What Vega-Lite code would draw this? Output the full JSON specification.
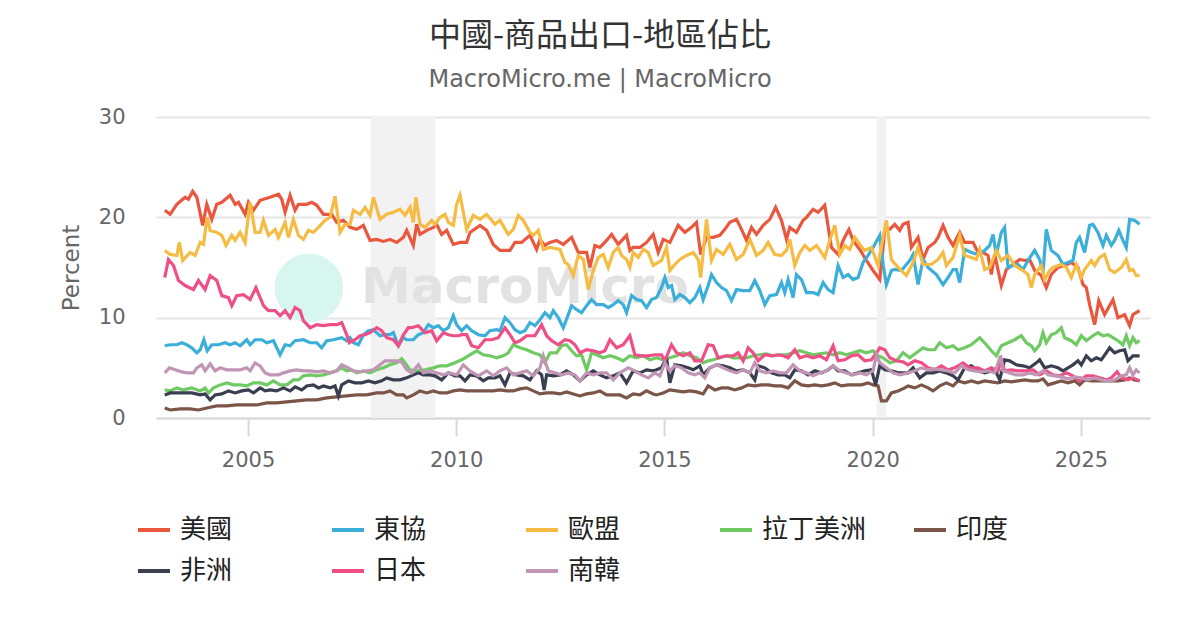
{
  "$schema": "https://vega.github.io/schema/vega-lite/v6.json",
  "width": 994,
  "height": 301,
  "autosize": "none",
  "padding": {"left": 156, "top": 117, "right": 50, "bottom": 212},
  "background": "white",
  "title": {
    "text": "中國-商品出口-地區佔比",
    "subtitle": "MacroMicro.me | MacroMicro",
    "anchor": "middle",
    "frame": "group",
    "dx": -53,
    "offset": 13,
    "font": "Noto Sans CJK TC",
    "fontSize": 32,
    "fontWeight": "normal",
    "color": "#333333",
    "subtitleFont": "DejaVu Sans",
    "subtitleFontSize": 24,
    "subtitleColor": "#666666",
    "subtitlePadding": 15
  },
  "config": {"view": {"stroke": null}},
  "datasets": {
    "us": [
      {"t":2003.00,"v":20.7},{"t":2003.13,"v":20.3},{"t":2003.29,"v":21.3},{"t":2003.49,"v":22.0},{"t":2003.57,"v":21.8},{"t":2003.67,"v":22.6},{"t":2003.77,"v":22.0},{"t":2003.91,"v":19.2},{"t":2004.01,"v":21.3},{"t":2004.13,"v":19.8},{"t":2004.25,"v":21.3},{"t":2004.37,"v":21.5},{"t":2004.57,"v":22.2},{"t":2004.69,"v":21.3},{"t":2004.77,"v":21.5},{"t":2004.93,"v":20.3},{"t":2005.01,"v":21.5},{"t":2005.13,"v":20.7},{"t":2005.29,"v":21.7},{"t":2005.53,"v":22.0},{"t":2005.73,"v":22.3},{"t":2005.81,"v":21.8},{"t":2005.89,"v":20.5},{"t":2006.01,"v":22.2},{"t":2006.13,"v":20.7},{"t":2006.21,"v":21.3},{"t":2006.41,"v":21.3},{"t":2006.53,"v":21.5},{"t":2006.65,"v":21.2},{"t":2006.81,"v":20.3},{"t":2007.01,"v":20.3},{"t":2007.13,"v":19.5},{"t":2007.29,"v":19.7},{"t":2007.45,"v":19.0},{"t":2007.61,"v":18.8},{"t":2007.77,"v":19.2},{"t":2007.93,"v":17.7},{"t":2008.09,"v":17.8},{"t":2008.25,"v":17.6},{"t":2008.41,"v":17.8},{"t":2008.57,"v":17.5},{"t":2008.73,"v":18.0},{"t":2008.81,"v":18.7},{"t":2008.97,"v":17.2},{"t":2009.05,"v":19.3},{"t":2009.13,"v":18.3},{"t":2009.29,"v":18.7},{"t":2009.45,"v":19.0},{"t":2009.53,"v":19.3},{"t":2009.65,"v":18.3},{"t":2009.77,"v":18.7},{"t":2009.93,"v":17.3},{"t":2010.09,"v":17.5},{"t":2010.25,"v":17.5},{"t":2010.33,"v":18.5},{"t":2010.57,"v":19.2},{"t":2010.73,"v":18.7},{"t":2010.89,"v":17.3},{"t":2011.05,"v":16.7},{"t":2011.29,"v":16.7},{"t":2011.41,"v":17.5},{"t":2011.57,"v":17.5},{"t":2011.77,"v":18.2},{"t":2011.93,"v":16.8},{"t":2012.01,"v":17.8},{"t":2012.13,"v":17.2},{"t":2012.25,"v":17.5},{"t":2012.41,"v":17.7},{"t":2012.57,"v":17.3},{"t":2012.77,"v":18.0},{"t":2012.93,"v":16.5},{"t":2013.13,"v":16.5},{"t":2013.21,"v":15.0},{"t":2013.33,"v":17.2},{"t":2013.45,"v":17.0},{"t":2013.61,"v":17.7},{"t":2013.73,"v":18.3},{"t":2013.89,"v":17.3},{"t":2014.09,"v":18.2},{"t":2014.17,"v":16.7},{"t":2014.25,"v":17.0},{"t":2014.41,"v":17.0},{"t":2014.57,"v":17.5},{"t":2014.73,"v":18.3},{"t":2014.85,"v":16.5},{"t":2014.97,"v":17.8},{"t":2015.13,"v":17.5},{"t":2015.33,"v":19.2},{"t":2015.49,"v":18.5},{"t":2015.65,"v":19.0},{"t":2015.77,"v":19.5},{"t":2015.87,"v":16.3},{"t":2016.01,"v":18.0},{"t":2016.17,"v":18.0},{"t":2016.33,"v":18.2},{"t":2016.45,"v":18.8},{"t":2016.57,"v":19.5},{"t":2016.73,"v":19.8},{"t":2016.85,"v":18.8},{"t":2016.97,"v":17.7},{"t":2017.09,"v":19.0},{"t":2017.21,"v":18.3},{"t":2017.37,"v":19.2},{"t":2017.53,"v":19.8},{"t":2017.67,"v":21.0},{"t":2017.81,"v":19.7},{"t":2017.93,"v":17.8},{"t":2018.01,"v":19.0},{"t":2018.17,"v":18.5},{"t":2018.33,"v":19.7},{"t":2018.41,"v":20.0},{"t":2018.57,"v":20.8},{"t":2018.69,"v":20.5},{"t":2018.85,"v":21.2},{"t":2019.01,"v":17.0},{"t":2019.17,"v":16.3},{"t":2019.29,"v":17.7},{"t":2019.43,"v":18.8},{"t":2019.53,"v":17.7},{"t":2019.69,"v":16.8},{"t":2019.85,"v":15.7},{"t":2020.01,"v":14.7},{"t":2020.17,"v":13.8},{"t":2020.29,"v":18.7},{"t":2020.41,"v":18.8},{"t":2020.53,"v":19.3},{"t":2020.65,"v":18.7},{"t":2020.73,"v":19.3},{"t":2020.85,"v":19.5},{"t":2020.93,"v":17.0},{"t":2021.09,"v":18.0},{"t":2021.21,"v":15.8},{"t":2021.33,"v":17.0},{"t":2021.49,"v":17.5},{"t":2021.57,"v":18.0},{"t":2021.69,"v":19.2},{"t":2021.81,"v":18.0},{"t":2021.93,"v":17.2},{"t":2022.09,"v":18.5},{"t":2022.21,"v":17.5},{"t":2022.41,"v":17.5},{"t":2022.53,"v":16.5},{"t":2022.65,"v":16.5},{"t":2022.77,"v":16.2},{"t":2022.85,"v":14.3},{"t":2022.93,"v":16.3},{"t":2023.09,"v":13.2},{"t":2023.21,"v":14.8},{"t":2023.37,"v":15.3},{"t":2023.53,"v":15.8},{"t":2023.65,"v":15.7},{"t":2023.77,"v":15.8},{"t":2023.89,"v":14.7},{"t":2024.05,"v":14.2},{"t":2024.17,"v":13.0},{"t":2024.29,"v":14.3},{"t":2024.45,"v":15.0},{"t":2024.61,"v":15.2},{"t":2024.77,"v":15.5},{"t":2024.93,"v":15.0},{"t":2025.05,"v":13.3},{"t":2025.13,"v":13.0},{"t":2025.21,"v":11.3},{"t":2025.33,"v":9.3},{"t":2025.43,"v":11.7},{"t":2025.57,"v":10.3},{"t":2025.77,"v":11.8},{"t":2025.89,"v":10.0},{"t":2026.05,"v":10.3},{"t":2026.17,"v":9.2},{"t":2026.25,"v":10.3},{"t":2026.41,"v":10.7}
    ],
    "asean": [
      {"t":2003.00,"v":7.2},{"t":2003.13,"v":7.3},{"t":2003.29,"v":7.3},{"t":2003.41,"v":7.5},{"t":2003.53,"v":7.3},{"t":2003.65,"v":7.0},{"t":2003.77,"v":6.5},{"t":2003.85,"v":6.8},{"t":2003.94,"v":7.8},{"t":2004.02,"v":6.7},{"t":2004.13,"v":7.3},{"t":2004.29,"v":7.3},{"t":2004.45,"v":7.5},{"t":2004.57,"v":7.3},{"t":2004.69,"v":7.5},{"t":2004.81,"v":7.2},{"t":2004.97,"v":7.8},{"t":2005.05,"v":7.3},{"t":2005.17,"v":7.8},{"t":2005.33,"v":7.8},{"t":2005.45,"v":7.5},{"t":2005.61,"v":7.7},{"t":2005.77,"v":6.3},{"t":2005.89,"v":7.3},{"t":2006.01,"v":7.2},{"t":2006.13,"v":7.7},{"t":2006.33,"v":7.8},{"t":2006.49,"v":7.5},{"t":2006.65,"v":7.5},{"t":2006.77,"v":7.0},{"t":2006.89,"v":7.7},{"t":2007.05,"v":7.8},{"t":2007.25,"v":8.0},{"t":2007.37,"v":7.7},{"t":2007.45,"v":8.0},{"t":2007.53,"v":7.5},{"t":2007.65,"v":7.3},{"t":2007.77,"v":8.3},{"t":2007.89,"v":8.7},{"t":2008.01,"v":8.8},{"t":2008.17,"v":8.2},{"t":2008.29,"v":8.3},{"t":2008.41,"v":8.3},{"t":2008.49,"v":8.5},{"t":2008.61,"v":7.2},{"t":2008.73,"v":8.0},{"t":2008.81,"v":7.8},{"t":2008.97,"v":7.8},{"t":2009.09,"v":8.3},{"t":2009.21,"v":8.5},{"t":2009.33,"v":9.3},{"t":2009.45,"v":9.0},{"t":2009.57,"v":9.2},{"t":2009.69,"v":8.7},{"t":2009.81,"v":9.0},{"t":2009.93,"v":10.2},{"t":2010.01,"v":9.3},{"t":2010.13,"v":8.7},{"t":2010.25,"v":9.2},{"t":2010.37,"v":8.7},{"t":2010.53,"v":8.3},{"t":2010.69,"v":8.2},{"t":2010.81,"v":8.7},{"t":2010.97,"v":8.8},{"t":2011.05,"v":8.7},{"t":2011.17,"v":10.0},{"t":2011.29,"v":9.5},{"t":2011.41,"v":8.8},{"t":2011.53,"v":8.5},{"t":2011.65,"v":8.7},{"t":2011.77,"v":9.5},{"t":2011.89,"v":9.2},{"t":2012.01,"v":9.8},{"t":2012.13,"v":10.5},{"t":2012.25,"v":10.0},{"t":2012.33,"v":10.7},{"t":2012.45,"v":10.0},{"t":2012.57,"v":9.0},{"t":2012.69,"v":10.3},{"t":2012.77,"v":11.2},{"t":2012.89,"v":10.8},{"t":2013.01,"v":10.5},{"t":2013.13,"v":11.2},{"t":2013.25,"v":11.8},{"t":2013.37,"v":11.3},{"t":2013.53,"v":11.3},{"t":2013.65,"v":11.0},{"t":2013.77,"v":11.3},{"t":2013.89,"v":11.7},{"t":2014.01,"v":11.3},{"t":2014.09,"v":10.5},{"t":2014.21,"v":12.2},{"t":2014.33,"v":11.8},{"t":2014.45,"v":11.7},{"t":2014.57,"v":11.0},{"t":2014.69,"v":11.8},{"t":2014.81,"v":12.0},{"t":2014.93,"v":13.0},{"t":2015.01,"v":14.0},{"t":2015.09,"v":13.0},{"t":2015.17,"v":13.2},{"t":2015.25,"v":11.8},{"t":2015.37,"v":12.3},{"t":2015.49,"v":12.0},{"t":2015.61,"v":11.5},{"t":2015.73,"v":12.0},{"t":2015.85,"v":13.0},{"t":2015.93,"v":11.8},{"t":2016.05,"v":13.2},{"t":2016.13,"v":14.3},{"t":2016.25,"v":13.5},{"t":2016.37,"v":13.0},{"t":2016.49,"v":12.7},{"t":2016.61,"v":11.7},{"t":2016.73,"v":12.8},{"t":2016.89,"v":12.7},{"t":2017.05,"v":12.7},{"t":2017.17,"v":13.7},{"t":2017.29,"v":12.7},{"t":2017.41,"v":11.3},{"t":2017.53,"v":12.2},{"t":2017.69,"v":12.3},{"t":2017.81,"v":13.5},{"t":2017.89,"v":12.5},{"t":2017.97,"v":13.8},{"t":2018.09,"v":12.0},{"t":2018.17,"v":14.3},{"t":2018.29,"v":13.8},{"t":2018.41,"v":12.5},{"t":2018.57,"v":12.5},{"t":2018.69,"v":12.3},{"t":2018.81,"v":13.5},{"t":2018.93,"v":12.8},{"t":2019.05,"v":12.5},{"t":2019.17,"v":15.2},{"t":2019.29,"v":14.0},{"t":2019.41,"v":14.3},{"t":2019.53,"v":13.8},{"t":2019.65,"v":14.0},{"t":2019.77,"v":15.5},{"t":2019.89,"v":16.2},{"t":2020.01,"v":17.0},{"t":2020.17,"v":18.2},{"t":2020.25,"v":15.3},{"t":2020.33,"v":13.3},{"t":2020.45,"v":14.7},{"t":2020.53,"v":14.8},{"t":2020.69,"v":14.7},{"t":2020.89,"v":15.7},{"t":2020.97,"v":16.3},{"t":2021.09,"v":13.3},{"t":2021.21,"v":15.8},{"t":2021.33,"v":15.0},{"t":2021.53,"v":14.3},{"t":2021.69,"v":13.3},{"t":2021.81,"v":14.0},{"t":2021.93,"v":14.8},{"t":2022.01,"v":14.8},{"t":2022.09,"v":13.5},{"t":2022.21,"v":16.8},{"t":2022.37,"v":16.5},{"t":2022.53,"v":16.3},{"t":2022.69,"v":16.7},{"t":2022.81,"v":17.2},{"t":2022.89,"v":18.3},{"t":2022.97,"v":16.3},{"t":2023.09,"v":18.5},{"t":2023.17,"v":19.0},{"t":2023.25,"v":15.0},{"t":2023.37,"v":15.2},{"t":2023.49,"v":15.3},{"t":2023.61,"v":14.8},{"t":2023.73,"v":15.7},{"t":2023.89,"v":16.7},{"t":2024.01,"v":15.8},{"t":2024.09,"v":14.5},{"t":2024.17,"v":18.8},{"t":2024.29,"v":16.7},{"t":2024.45,"v":16.2},{"t":2024.57,"v":15.3},{"t":2024.69,"v":15.5},{"t":2024.81,"v":15.7},{"t":2024.89,"v":17.5},{"t":2024.97,"v":18.0},{"t":2025.09,"v":16.5},{"t":2025.21,"v":19.2},{"t":2025.29,"v":19.3},{"t":2025.41,"v":18.5},{"t":2025.53,"v":17.2},{"t":2025.61,"v":18.2},{"t":2025.73,"v":17.2},{"t":2025.81,"v":17.7},{"t":2025.91,"v":18.7},{"t":2026.01,"v":17.7},{"t":2026.09,"v":17.0},{"t":2026.17,"v":19.8},{"t":2026.29,"v":19.7},{"t":2026.41,"v":19.3}
    ],
    "eu": [
      {"t":2003.00,"v":16.7},{"t":2003.13,"v":16.3},{"t":2003.29,"v":16.2},{"t":2003.35,"v":17.5},{"t":2003.43,"v":15.7},{"t":2003.61,"v":16.5},{"t":2003.73,"v":16.2},{"t":2003.85,"v":17.5},{"t":2003.93,"v":17.3},{"t":2004.02,"v":20.0},{"t":2004.09,"v":18.7},{"t":2004.25,"v":18.5},{"t":2004.37,"v":18.2},{"t":2004.47,"v":17.2},{"t":2004.61,"v":18.2},{"t":2004.69,"v":17.7},{"t":2004.81,"v":18.5},{"t":2004.93,"v":17.5},{"t":2005.05,"v":21.5},{"t":2005.17,"v":18.5},{"t":2005.29,"v":18.5},{"t":2005.37,"v":19.7},{"t":2005.49,"v":18.2},{"t":2005.65,"v":18.8},{"t":2005.73,"v":18.0},{"t":2005.89,"v":19.5},{"t":2005.97,"v":18.0},{"t":2006.09,"v":19.8},{"t":2006.21,"v":18.2},{"t":2006.33,"v":17.8},{"t":2006.45,"v":18.7},{"t":2006.57,"v":18.5},{"t":2006.69,"v":19.0},{"t":2006.85,"v":19.7},{"t":2006.97,"v":20.0},{"t":2007.09,"v":22.1},{"t":2007.21,"v":18.5},{"t":2007.33,"v":19.3},{"t":2007.45,"v":19.3},{"t":2007.53,"v":20.7},{"t":2007.69,"v":20.3},{"t":2007.81,"v":21.0},{"t":2007.93,"v":20.2},{"t":2008.01,"v":22.0},{"t":2008.17,"v":19.8},{"t":2008.33,"v":20.3},{"t":2008.49,"v":20.5},{"t":2008.65,"v":20.8},{"t":2008.77,"v":20.2},{"t":2008.89,"v":21.0},{"t":2008.97,"v":19.5},{"t":2009.03,"v":22.0},{"t":2009.13,"v":19.3},{"t":2009.25,"v":19.0},{"t":2009.41,"v":19.7},{"t":2009.49,"v":19.3},{"t":2009.61,"v":20.0},{"t":2009.73,"v":20.3},{"t":2009.81,"v":19.5},{"t":2009.93,"v":19.2},{"t":2010.01,"v":21.3},{"t":2010.09,"v":22.2},{"t":2010.25,"v":18.8},{"t":2010.41,"v":20.2},{"t":2010.57,"v":19.8},{"t":2010.73,"v":20.3},{"t":2010.93,"v":19.3},{"t":2011.05,"v":19.7},{"t":2011.25,"v":18.3},{"t":2011.37,"v":18.8},{"t":2011.49,"v":20.2},{"t":2011.61,"v":19.7},{"t":2011.77,"v":18.5},{"t":2011.85,"v":18.2},{"t":2011.97,"v":18.7},{"t":2012.09,"v":16.8},{"t":2012.25,"v":17.0},{"t":2012.49,"v":16.8},{"t":2012.61,"v":15.5},{"t":2012.69,"v":15.3},{"t":2012.81,"v":14.2},{"t":2012.93,"v":16.2},{"t":2013.05,"v":15.8},{"t":2013.17,"v":12.8},{"t":2013.29,"v":14.7},{"t":2013.41,"v":16.0},{"t":2013.53,"v":16.3},{"t":2013.65,"v":15.0},{"t":2013.77,"v":16.5},{"t":2013.89,"v":17.0},{"t":2013.97,"v":16.2},{"t":2014.09,"v":15.8},{"t":2014.17,"v":15.0},{"t":2014.25,"v":16.5},{"t":2014.37,"v":16.0},{"t":2014.49,"v":16.8},{"t":2014.61,"v":16.5},{"t":2014.73,"v":15.2},{"t":2014.93,"v":15.7},{"t":2015.05,"v":17.0},{"t":2015.13,"v":14.7},{"t":2015.25,"v":15.3},{"t":2015.37,"v":15.8},{"t":2015.53,"v":16.2},{"t":2015.69,"v":16.5},{"t":2015.81,"v":15.8},{"t":2015.87,"v":14.0},{"t":2016.01,"v":19.8},{"t":2016.13,"v":15.7},{"t":2016.25,"v":16.8},{"t":2016.41,"v":16.3},{"t":2016.57,"v":17.3},{"t":2016.73,"v":15.8},{"t":2016.89,"v":16.3},{"t":2017.05,"v":17.8},{"t":2017.21,"v":16.2},{"t":2017.37,"v":16.7},{"t":2017.49,"v":17.5},{"t":2017.65,"v":16.3},{"t":2017.81,"v":16.2},{"t":2017.93,"v":16.7},{"t":2018.01,"v":17.8},{"t":2018.13,"v":15.2},{"t":2018.25,"v":16.5},{"t":2018.37,"v":17.2},{"t":2018.49,"v":16.7},{"t":2018.65,"v":17.2},{"t":2018.85,"v":16.0},{"t":2018.97,"v":17.7},{"t":2019.09,"v":19.2},{"t":2019.21,"v":16.3},{"t":2019.33,"v":17.2},{"t":2019.45,"v":16.8},{"t":2019.57,"v":18.0},{"t":2019.69,"v":17.3},{"t":2019.81,"v":16.7},{"t":2019.97,"v":17.0},{"t":2020.13,"v":15.2},{"t":2020.25,"v":18.0},{"t":2020.33,"v":19.7},{"t":2020.45,"v":15.8},{"t":2020.57,"v":15.2},{"t":2020.69,"v":14.7},{"t":2020.81,"v":14.2},{"t":2020.97,"v":15.5},{"t":2021.09,"v":17.0},{"t":2021.21,"v":15.3},{"t":2021.41,"v":15.3},{"t":2021.57,"v":15.8},{"t":2021.69,"v":16.5},{"t":2021.77,"v":15.2},{"t":2021.93,"v":16.0},{"t":2022.09,"v":18.2},{"t":2022.21,"v":16.2},{"t":2022.37,"v":16.0},{"t":2022.49,"v":15.8},{"t":2022.57,"v":16.8},{"t":2022.69,"v":14.8},{"t":2022.81,"v":15.0},{"t":2022.97,"v":16.7},{"t":2023.09,"v":15.7},{"t":2023.25,"v":16.2},{"t":2023.41,"v":15.2},{"t":2023.61,"v":14.7},{"t":2023.73,"v":14.3},{"t":2023.81,"v":13.0},{"t":2023.89,"v":14.3},{"t":2024.05,"v":15.2},{"t":2024.13,"v":13.8},{"t":2024.25,"v":14.7},{"t":2024.33,"v":15.0},{"t":2024.53,"v":15.3},{"t":2024.65,"v":15.0},{"t":2024.77,"v":14.0},{"t":2024.89,"v":15.3},{"t":2025.01,"v":14.0},{"t":2025.09,"v":14.8},{"t":2025.25,"v":15.7},{"t":2025.33,"v":15.2},{"t":2025.45,"v":16.0},{"t":2025.57,"v":16.3},{"t":2025.69,"v":14.8},{"t":2025.81,"v":14.5},{"t":2025.97,"v":15.0},{"t":2026.09,"v":15.8},{"t":2026.17,"v":14.7},{"t":2026.25,"v":14.8},{"t":2026.33,"v":14.2},{"t":2026.41,"v":14.2}
    ],
    "latam": [
      {"t":2003.00,"v":2.8},{"t":2003.13,"v":2.7},{"t":2003.29,"v":3.0},{"t":2003.45,"v":2.8},{"t":2003.65,"v":3.0},{"t":2003.85,"v":2.7},{"t":2003.97,"v":3.0},{"t":2004.05,"v":2.5},{"t":2004.17,"v":3.0},{"t":2004.33,"v":3.3},{"t":2004.49,"v":3.5},{"t":2004.65,"v":3.3},{"t":2004.81,"v":3.3},{"t":2004.97,"v":3.2},{"t":2005.13,"v":3.5},{"t":2005.29,"v":3.5},{"t":2005.45,"v":3.3},{"t":2005.61,"v":3.7},{"t":2005.77,"v":3.3},{"t":2005.93,"v":3.3},{"t":2006.09,"v":3.8},{"t":2006.21,"v":3.8},{"t":2006.33,"v":4.2},{"t":2006.49,"v":4.3},{"t":2006.65,"v":4.2},{"t":2006.81,"v":4.3},{"t":2006.97,"v":4.5},{"t":2007.13,"v":4.7},{"t":2007.25,"v":5.0},{"t":2007.37,"v":4.7},{"t":2007.49,"v":4.8},{"t":2007.61,"v":4.5},{"t":2007.77,"v":4.7},{"t":2007.93,"v":4.5},{"t":2008.09,"v":4.8},{"t":2008.25,"v":5.0},{"t":2008.41,"v":5.3},{"t":2008.57,"v":5.5},{"t":2008.69,"v":5.9},{"t":2008.77,"v":5.5},{"t":2008.89,"v":4.8},{"t":2009.05,"v":4.7},{"t":2009.25,"v":4.8},{"t":2009.45,"v":5.0},{"t":2009.61,"v":5.2},{"t":2009.77,"v":5.2},{"t":2009.97,"v":5.5},{"t":2010.13,"v":5.8},{"t":2010.33,"v":6.3},{"t":2010.49,"v":6.7},{"t":2010.65,"v":6.3},{"t":2010.81,"v":6.2},{"t":2010.97,"v":6.0},{"t":2011.13,"v":6.2},{"t":2011.25,"v":6.5},{"t":2011.37,"v":7.3},{"t":2011.53,"v":7.0},{"t":2011.69,"v":6.8},{"t":2011.85,"v":6.5},{"t":2012.01,"v":6.3},{"t":2012.13,"v":5.5},{"t":2012.25,"v":6.5},{"t":2012.41,"v":6.5},{"t":2012.53,"v":7.2},{"t":2012.65,"v":7.3},{"t":2012.77,"v":6.7},{"t":2012.89,"v":6.2},{"t":2013.01,"v":6.3},{"t":2013.13,"v":4.8},{"t":2013.25,"v":6.5},{"t":2013.37,"v":6.3},{"t":2013.53,"v":6.0},{"t":2013.69,"v":6.2},{"t":2013.85,"v":6.0},{"t":2014.01,"v":5.7},{"t":2014.17,"v":6.2},{"t":2014.33,"v":6.0},{"t":2014.49,"v":6.2},{"t":2014.65,"v":5.8},{"t":2014.81,"v":6.0},{"t":2014.97,"v":5.8},{"t":2015.13,"v":6.0},{"t":2015.29,"v":6.2},{"t":2015.45,"v":6.5},{"t":2015.61,"v":6.2},{"t":2015.77,"v":6.0},{"t":2015.93,"v":5.5},{"t":2016.05,"v":5.7},{"t":2016.17,"v":5.8},{"t":2016.33,"v":6.0},{"t":2016.49,"v":6.2},{"t":2016.65,"v":6.0},{"t":2016.81,"v":6.0},{"t":2016.97,"v":6.0},{"t":2017.13,"v":6.2},{"t":2017.29,"v":6.3},{"t":2017.45,"v":6.4},{"t":2017.61,"v":6.2},{"t":2017.77,"v":6.3},{"t":2017.93,"v":6.3},{"t":2018.09,"v":6.5},{"t":2018.25,"v":6.7},{"t":2018.41,"v":6.5},{"t":2018.57,"v":6.3},{"t":2018.73,"v":6.4},{"t":2018.89,"v":6.5},{"t":2019.05,"v":6.3},{"t":2019.21,"v":6.5},{"t":2019.37,"v":6.3},{"t":2019.53,"v":6.5},{"t":2019.69,"v":6.7},{"t":2019.85,"v":6.5},{"t":2020.01,"v":6.7},{"t":2020.13,"v":6.2},{"t":2020.25,"v":6.0},{"t":2020.41,"v":5.5},{"t":2020.57,"v":5.7},{"t":2020.73,"v":6.5},{"t":2020.89,"v":6.0},{"t":2021.05,"v":6.5},{"t":2021.21,"v":7.0},{"t":2021.33,"v":6.8},{"t":2021.49,"v":6.8},{"t":2021.61,"v":7.5},{"t":2021.77,"v":7.0},{"t":2021.93,"v":7.2},{"t":2022.05,"v":6.8},{"t":2022.21,"v":7.0},{"t":2022.37,"v":7.3},{"t":2022.57,"v":8.0},{"t":2022.73,"v":7.3},{"t":2022.85,"v":6.7},{"t":2022.97,"v":6.2},{"t":2023.09,"v":7.2},{"t":2023.25,"v":7.5},{"t":2023.41,"v":7.8},{"t":2023.57,"v":8.2},{"t":2023.69,"v":7.5},{"t":2023.81,"v":7.2},{"t":2023.89,"v":6.7},{"t":2024.01,"v":7.3},{"t":2024.09,"v":8.5},{"t":2024.17,"v":7.5},{"t":2024.29,"v":8.3},{"t":2024.41,"v":8.5},{"t":2024.53,"v":9.0},{"t":2024.61,"v":8.0},{"t":2024.77,"v":7.7},{"t":2024.89,"v":7.3},{"t":2025.01,"v":8.2},{"t":2025.13,"v":7.7},{"t":2025.29,"v":8.2},{"t":2025.41,"v":8.5},{"t":2025.53,"v":8.2},{"t":2025.65,"v":8.3},{"t":2025.77,"v":8.0},{"t":2025.89,"v":7.7},{"t":2026.01,"v":7.3},{"t":2026.09,"v":8.2},{"t":2026.17,"v":7.2},{"t":2026.25,"v":8.0},{"t":2026.33,"v":7.5},{"t":2026.41,"v":7.7}
    ],
    "india": [
      {"t":2003.00,"v":1.0},{"t":2003.13,"v":0.8},{"t":2003.37,"v":0.9},{"t":2003.61,"v":0.9},{"t":2003.81,"v":0.8},{"t":2004.01,"v":1.0},{"t":2004.25,"v":1.2},{"t":2004.49,"v":1.2},{"t":2004.73,"v":1.3},{"t":2004.97,"v":1.3},{"t":2005.21,"v":1.3},{"t":2005.45,"v":1.5},{"t":2005.69,"v":1.5},{"t":2005.93,"v":1.6},{"t":2006.17,"v":1.7},{"t":2006.41,"v":1.8},{"t":2006.65,"v":1.8},{"t":2006.89,"v":2.0},{"t":2007.13,"v":2.1},{"t":2007.37,"v":2.2},{"t":2007.61,"v":2.3},{"t":2007.85,"v":2.3},{"t":2008.09,"v":2.5},{"t":2008.25,"v":2.5},{"t":2008.41,"v":2.7},{"t":2008.57,"v":2.3},{"t":2008.73,"v":2.3},{"t":2008.81,"v":2.0},{"t":2008.97,"v":2.3},{"t":2009.13,"v":2.7},{"t":2009.29,"v":2.5},{"t":2009.45,"v":2.7},{"t":2009.61,"v":2.5},{"t":2009.77,"v":2.5},{"t":2009.93,"v":2.7},{"t":2010.09,"v":2.8},{"t":2010.25,"v":2.7},{"t":2010.41,"v":2.7},{"t":2010.57,"v":2.7},{"t":2010.73,"v":2.7},{"t":2010.89,"v":2.7},{"t":2011.05,"v":2.8},{"t":2011.21,"v":2.7},{"t":2011.37,"v":2.7},{"t":2011.53,"v":2.9},{"t":2011.69,"v":3.0},{"t":2011.85,"v":2.7},{"t":2012.01,"v":2.4},{"t":2012.17,"v":2.5},{"t":2012.33,"v":2.5},{"t":2012.49,"v":2.4},{"t":2012.65,"v":2.6},{"t":2012.81,"v":2.4},{"t":2012.97,"v":2.2},{"t":2013.13,"v":2.4},{"t":2013.29,"v":2.5},{"t":2013.45,"v":2.7},{"t":2013.61,"v":2.3},{"t":2013.77,"v":2.3},{"t":2013.93,"v":2.3},{"t":2014.09,"v":2.0},{"t":2014.25,"v":2.4},{"t":2014.41,"v":2.3},{"t":2014.57,"v":2.7},{"t":2014.73,"v":2.4},{"t":2014.81,"v":2.3},{"t":2014.97,"v":2.5},{"t":2015.13,"v":2.8},{"t":2015.29,"v":2.7},{"t":2015.45,"v":2.6},{"t":2015.61,"v":2.7},{"t":2015.77,"v":2.6},{"t":2015.93,"v":2.4},{"t":2016.05,"v":3.2},{"t":2016.21,"v":2.8},{"t":2016.37,"v":3.0},{"t":2016.53,"v":3.0},{"t":2016.69,"v":2.8},{"t":2016.85,"v":3.0},{"t":2017.01,"v":3.3},{"t":2017.17,"v":3.2},{"t":2017.33,"v":3.3},{"t":2017.49,"v":3.3},{"t":2017.65,"v":3.2},{"t":2017.81,"v":3.2},{"t":2017.97,"v":3.0},{"t":2018.13,"v":3.7},{"t":2018.29,"v":3.3},{"t":2018.45,"v":3.2},{"t":2018.61,"v":3.3},{"t":2018.77,"v":3.2},{"t":2018.93,"v":3.3},{"t":2019.09,"v":3.5},{"t":2019.25,"v":3.2},{"t":2019.41,"v":3.3},{"t":2019.57,"v":3.3},{"t":2019.73,"v":3.3},{"t":2019.89,"v":3.5},{"t":2020.01,"v":3.3},{"t":2020.13,"v":3.2},{"t":2020.21,"v":1.7},{"t":2020.33,"v":1.7},{"t":2020.45,"v":2.5},{"t":2020.61,"v":2.7},{"t":2020.77,"v":3.0},{"t":2020.85,"v":3.2},{"t":2021.01,"v":3.0},{"t":2021.17,"v":3.3},{"t":2021.33,"v":3.0},{"t":2021.45,"v":2.7},{"t":2021.61,"v":3.2},{"t":2021.77,"v":3.5},{"t":2021.93,"v":3.2},{"t":2022.05,"v":3.7},{"t":2022.21,"v":3.5},{"t":2022.37,"v":3.7},{"t":2022.53,"v":3.5},{"t":2022.69,"v":3.7},{"t":2022.85,"v":3.6},{"t":2023.01,"v":3.5},{"t":2023.17,"v":3.7},{"t":2023.33,"v":3.6},{"t":2023.49,"v":3.7},{"t":2023.65,"v":3.8},{"t":2023.81,"v":3.7},{"t":2023.97,"v":3.7},{"t":2024.09,"v":3.9},{"t":2024.21,"v":3.3},{"t":2024.37,"v":3.5},{"t":2024.53,"v":3.7},{"t":2024.69,"v":3.5},{"t":2024.85,"v":3.7},{"t":2024.97,"v":3.3},{"t":2025.09,"v":3.8},{"t":2025.25,"v":3.7},{"t":2025.41,"v":3.7},{"t":2025.57,"v":3.7},{"t":2025.73,"v":3.7},{"t":2025.89,"v":3.7},{"t":2026.05,"v":3.8},{"t":2026.17,"v":4.0},{"t":2026.29,"v":3.8},{"t":2026.41,"v":3.7}
    ],
    "africa": [
      {"t":2003.00,"v":2.3},{"t":2003.13,"v":2.5},{"t":2003.29,"v":2.5},{"t":2003.45,"v":2.5},{"t":2003.65,"v":2.5},{"t":2003.85,"v":2.3},{"t":2003.97,"v":2.4},{"t":2004.09,"v":1.8},{"t":2004.21,"v":2.3},{"t":2004.37,"v":2.4},{"t":2004.53,"v":2.7},{"t":2004.69,"v":2.5},{"t":2004.85,"v":2.7},{"t":2005.01,"v":2.8},{"t":2005.13,"v":2.5},{"t":2005.29,"v":3.0},{"t":2005.41,"v":2.7},{"t":2005.53,"v":2.8},{"t":2005.69,"v":2.7},{"t":2005.85,"v":3.0},{"t":2006.01,"v":2.7},{"t":2006.13,"v":3.1},{"t":2006.29,"v":2.8},{"t":2006.41,"v":3.2},{"t":2006.57,"v":3.3},{"t":2006.69,"v":3.0},{"t":2006.81,"v":3.2},{"t":2006.97,"v":3.0},{"t":2007.09,"v":3.2},{"t":2007.17,"v":2.2},{"t":2007.25,"v":3.3},{"t":2007.41,"v":3.7},{"t":2007.57,"v":3.5},{"t":2007.73,"v":3.5},{"t":2007.89,"v":3.7},{"t":2008.05,"v":3.5},{"t":2008.21,"v":3.7},{"t":2008.33,"v":4.0},{"t":2008.49,"v":3.8},{"t":2008.65,"v":3.8},{"t":2008.81,"v":4.0},{"t":2008.97,"v":4.3},{"t":2009.09,"v":4.5},{"t":2009.21,"v":4.3},{"t":2009.37,"v":4.3},{"t":2009.49,"v":4.2},{"t":2009.65,"v":3.8},{"t":2009.81,"v":4.5},{"t":2009.97,"v":4.2},{"t":2010.09,"v":4.2},{"t":2010.21,"v":3.7},{"t":2010.33,"v":4.3},{"t":2010.49,"v":4.2},{"t":2010.65,"v":3.7},{"t":2010.77,"v":4.0},{"t":2010.93,"v":4.0},{"t":2011.05,"v":4.2},{"t":2011.17,"v":3.3},{"t":2011.29,"v":4.5},{"t":2011.45,"v":4.3},{"t":2011.61,"v":4.2},{"t":2011.77,"v":3.8},{"t":2011.93,"v":4.7},{"t":2012.05,"v":4.3},{"t":2012.11,"v":2.8},{"t":2012.17,"v":4.3},{"t":2012.33,"v":4.2},{"t":2012.49,"v":4.3},{"t":2012.65,"v":4.7},{"t":2012.81,"v":4.3},{"t":2012.97,"v":3.7},{"t":2013.13,"v":4.3},{"t":2013.29,"v":4.7},{"t":2013.45,"v":4.3},{"t":2013.61,"v":4.0},{"t":2013.77,"v":4.2},{"t":2013.93,"v":4.5},{"t":2014.09,"v":3.5},{"t":2014.25,"v":4.7},{"t":2014.41,"v":4.5},{"t":2014.57,"v":4.8},{"t":2014.73,"v":4.7},{"t":2014.81,"v":4.8},{"t":2014.93,"v":5.0},{"t":2015.05,"v":6.0},{"t":2015.13,"v":3.5},{"t":2015.25,"v":5.3},{"t":2015.41,"v":5.2},{"t":2015.57,"v":5.0},{"t":2015.69,"v":4.8},{"t":2015.85,"v":5.2},{"t":2015.93,"v":4.3},{"t":2016.09,"v":5.0},{"t":2016.25,"v":5.3},{"t":2016.41,"v":5.2},{"t":2016.57,"v":5.0},{"t":2016.73,"v":4.7},{"t":2016.89,"v":4.8},{"t":2017.05,"v":4.5},{"t":2017.17,"v":3.8},{"t":2017.25,"v":5.2},{"t":2017.41,"v":5.0},{"t":2017.57,"v":4.5},{"t":2017.73,"v":4.3},{"t":2017.89,"v":4.3},{"t":2018.01,"v":4.0},{"t":2018.13,"v":4.8},{"t":2018.29,"v":4.7},{"t":2018.45,"v":4.3},{"t":2018.61,"v":4.7},{"t":2018.77,"v":4.5},{"t":2018.93,"v":4.8},{"t":2019.05,"v":5.2},{"t":2019.17,"v":4.7},{"t":2019.33,"v":4.7},{"t":2019.49,"v":4.3},{"t":2019.65,"v":4.5},{"t":2019.81,"v":4.7},{"t":2019.97,"v":4.8},{"t":2020.07,"v":3.3},{"t":2020.17,"v":5.2},{"t":2020.29,"v":4.8},{"t":2020.45,"v":4.7},{"t":2020.61,"v":4.5},{"t":2020.69,"v":4.5},{"t":2020.85,"v":4.5},{"t":2020.97,"v":5.0},{"t":2021.13,"v":4.0},{"t":2021.29,"v":4.5},{"t":2021.45,"v":4.5},{"t":2021.61,"v":4.7},{"t":2021.77,"v":4.5},{"t":2021.93,"v":4.2},{"t":2022.05,"v":3.8},{"t":2022.21,"v":5.0},{"t":2022.37,"v":5.2},{"t":2022.53,"v":4.7},{"t":2022.69,"v":4.5},{"t":2022.85,"v":4.7},{"t":2022.97,"v":4.5},{"t":2023.05,"v":3.8},{"t":2023.17,"v":5.8},{"t":2023.29,"v":5.7},{"t":2023.45,"v":5.3},{"t":2023.61,"v":5.2},{"t":2023.77,"v":5.0},{"t":2023.93,"v":5.5},{"t":2024.01,"v":5.8},{"t":2024.13,"v":5.0},{"t":2024.29,"v":5.2},{"t":2024.45,"v":5.0},{"t":2024.57,"v":4.7},{"t":2024.69,"v":5.0},{"t":2024.81,"v":5.3},{"t":2024.93,"v":5.7},{"t":2025.01,"v":5.3},{"t":2025.13,"v":6.2},{"t":2025.25,"v":5.7},{"t":2025.37,"v":6.0},{"t":2025.49,"v":5.8},{"t":2025.61,"v":6.5},{"t":2025.69,"v":7.0},{"t":2025.81,"v":6.5},{"t":2025.93,"v":6.7},{"t":2026.05,"v":6.8},{"t":2026.13,"v":5.7},{"t":2026.25,"v":6.2},{"t":2026.41,"v":6.2}
    ],
    "japan": [
      {"t":2003.00,"v":14.0},{"t":2003.09,"v":15.8},{"t":2003.21,"v":15.2},{"t":2003.33,"v":13.7},{"t":2003.49,"v":13.2},{"t":2003.69,"v":12.8},{"t":2003.81,"v":13.7},{"t":2003.97,"v":12.8},{"t":2004.09,"v":14.2},{"t":2004.25,"v":13.7},{"t":2004.37,"v":12.2},{"t":2004.53,"v":12.0},{"t":2004.61,"v":11.2},{"t":2004.73,"v":12.2},{"t":2004.89,"v":12.3},{"t":2005.05,"v":11.8},{"t":2005.19,"v":13.0},{"t":2005.37,"v":11.2},{"t":2005.49,"v":10.7},{"t":2005.65,"v":10.7},{"t":2005.77,"v":10.2},{"t":2005.89,"v":10.7},{"t":2006.01,"v":10.0},{"t":2006.13,"v":11.0},{"t":2006.25,"v":10.7},{"t":2006.33,"v":9.7},{"t":2006.49,"v":9.0},{"t":2006.65,"v":9.3},{"t":2006.81,"v":9.2},{"t":2006.97,"v":9.3},{"t":2007.13,"v":9.3},{"t":2007.25,"v":9.5},{"t":2007.37,"v":8.3},{"t":2007.43,"v":7.5},{"t":2007.57,"v":7.8},{"t":2007.69,"v":8.2},{"t":2007.81,"v":8.3},{"t":2007.93,"v":8.5},{"t":2008.09,"v":9.0},{"t":2008.21,"v":8.7},{"t":2008.33,"v":8.0},{"t":2008.49,"v":7.8},{"t":2008.61,"v":7.2},{"t":2008.73,"v":8.3},{"t":2008.85,"v":9.0},{"t":2008.93,"v":9.0},{"t":2009.09,"v":9.2},{"t":2009.25,"v":8.5},{"t":2009.41,"v":8.7},{"t":2009.53,"v":7.7},{"t":2009.69,"v":8.5},{"t":2009.81,"v":8.3},{"t":2009.93,"v":8.2},{"t":2010.05,"v":8.2},{"t":2010.13,"v":8.3},{"t":2010.25,"v":8.3},{"t":2010.37,"v":7.2},{"t":2010.53,"v":7.0},{"t":2010.69,"v":7.8},{"t":2010.85,"v":7.8},{"t":2011.01,"v":8.0},{"t":2011.17,"v":9.0},{"t":2011.29,"v":8.3},{"t":2011.41,"v":7.5},{"t":2011.53,"v":7.7},{"t":2011.69,"v":8.2},{"t":2011.89,"v":8.2},{"t":2012.05,"v":9.3},{"t":2012.17,"v":8.2},{"t":2012.29,"v":7.7},{"t":2012.45,"v":7.3},{"t":2012.61,"v":7.8},{"t":2012.73,"v":7.7},{"t":2012.85,"v":7.3},{"t":2012.97,"v":6.5},{"t":2013.13,"v":6.8},{"t":2013.29,"v":6.7},{"t":2013.45,"v":6.5},{"t":2013.57,"v":6.7},{"t":2013.69,"v":7.8},{"t":2013.85,"v":7.0},{"t":2014.01,"v":7.3},{"t":2014.17,"v":8.2},{"t":2014.29,"v":6.3},{"t":2014.45,"v":6.2},{"t":2014.61,"v":6.2},{"t":2014.77,"v":6.3},{"t":2014.93,"v":6.3},{"t":2015.01,"v":5.7},{"t":2015.17,"v":7.3},{"t":2015.29,"v":6.5},{"t":2015.45,"v":6.2},{"t":2015.61,"v":6.5},{"t":2015.73,"v":5.7},{"t":2015.89,"v":5.7},{"t":2016.05,"v":7.3},{"t":2016.17,"v":7.2},{"t":2016.29,"v":6.0},{"t":2016.49,"v":6.2},{"t":2016.65,"v":6.2},{"t":2016.77,"v":6.5},{"t":2016.89,"v":5.7},{"t":2017.01,"v":7.0},{"t":2017.13,"v":6.5},{"t":2017.25,"v":5.7},{"t":2017.41,"v":6.3},{"t":2017.57,"v":6.2},{"t":2017.73,"v":6.3},{"t":2017.85,"v":6.2},{"t":2017.97,"v":6.0},{"t":2018.13,"v":6.8},{"t":2018.25,"v":6.0},{"t":2018.41,"v":6.2},{"t":2018.57,"v":6.0},{"t":2018.73,"v":6.2},{"t":2018.89,"v":5.8},{"t":2019.05,"v":7.2},{"t":2019.17,"v":5.7},{"t":2019.33,"v":5.8},{"t":2019.49,"v":6.2},{"t":2019.65,"v":6.3},{"t":2019.81,"v":5.7},{"t":2019.97,"v":5.8},{"t":2020.09,"v":6.5},{"t":2020.17,"v":7.0},{"t":2020.29,"v":6.8},{"t":2020.41,"v":6.0},{"t":2020.57,"v":5.7},{"t":2020.73,"v":5.6},{"t":2020.85,"v":5.3},{"t":2021.01,"v":5.7},{"t":2021.17,"v":5.5},{"t":2021.33,"v":5.0},{"t":2021.49,"v":4.8},{"t":2021.65,"v":5.2},{"t":2021.81,"v":4.8},{"t":2021.97,"v":5.0},{"t":2022.17,"v":5.5},{"t":2022.33,"v":5.0},{"t":2022.53,"v":5.0},{"t":2022.69,"v":4.7},{"t":2022.85,"v":5.0},{"t":2023.01,"v":4.7},{"t":2023.09,"v":5.8},{"t":2023.17,"v":4.7},{"t":2023.33,"v":4.8},{"t":2023.49,"v":4.7},{"t":2023.69,"v":4.7},{"t":2023.85,"v":4.8},{"t":2024.01,"v":4.3},{"t":2024.17,"v":4.7},{"t":2024.33,"v":4.3},{"t":2024.49,"v":4.2},{"t":2024.65,"v":4.5},{"t":2024.81,"v":4.2},{"t":2024.97,"v":3.7},{"t":2025.13,"v":4.2},{"t":2025.29,"v":4.2},{"t":2025.45,"v":4.0},{"t":2025.61,"v":3.8},{"t":2025.73,"v":4.0},{"t":2025.87,"v":4.6},{"t":2025.97,"v":4.0},{"t":2026.13,"v":3.8},{"t":2026.25,"v":4.0},{"t":2026.41,"v":3.7}
    ],
    "korea": [
      {"t":2003.00,"v":4.5},{"t":2003.11,"v":5.0},{"t":2003.25,"v":4.8},{"t":2003.41,"v":4.6},{"t":2003.53,"v":4.5},{"t":2003.69,"v":4.5},{"t":2003.77,"v":5.0},{"t":2003.89,"v":5.3},{"t":2003.97,"v":4.7},{"t":2004.09,"v":5.4},{"t":2004.21,"v":4.7},{"t":2004.33,"v":5.0},{"t":2004.49,"v":4.8},{"t":2004.65,"v":4.8},{"t":2004.81,"v":4.8},{"t":2004.97,"v":5.0},{"t":2005.05,"v":4.7},{"t":2005.17,"v":5.5},{"t":2005.29,"v":5.2},{"t":2005.41,"v":4.5},{"t":2005.53,"v":4.3},{"t":2005.73,"v":4.3},{"t":2005.85,"v":4.5},{"t":2006.01,"v":4.7},{"t":2006.17,"v":4.8},{"t":2006.33,"v":4.7},{"t":2006.49,"v":4.7},{"t":2006.65,"v":4.6},{"t":2006.81,"v":4.7},{"t":2006.97,"v":4.5},{"t":2007.13,"v":4.7},{"t":2007.25,"v":5.3},{"t":2007.41,"v":5.0},{"t":2007.53,"v":4.7},{"t":2007.69,"v":4.6},{"t":2007.85,"v":4.7},{"t":2008.01,"v":4.8},{"t":2008.17,"v":5.3},{"t":2008.29,"v":5.7},{"t":2008.41,"v":5.7},{"t":2008.57,"v":5.7},{"t":2008.69,"v":5.6},{"t":2008.81,"v":4.8},{"t":2008.93,"v":4.5},{"t":2009.09,"v":5.3},{"t":2009.21,"v":4.5},{"t":2009.37,"v":4.7},{"t":2009.53,"v":4.5},{"t":2009.69,"v":4.3},{"t":2009.85,"v":4.5},{"t":2010.01,"v":4.3},{"t":2010.17,"v":5.3},{"t":2010.33,"v":4.7},{"t":2010.53,"v":4.2},{"t":2010.73,"v":4.7},{"t":2010.89,"v":4.2},{"t":2011.05,"v":4.7},{"t":2011.21,"v":5.0},{"t":2011.37,"v":4.3},{"t":2011.53,"v":4.5},{"t":2011.69,"v":4.7},{"t":2011.85,"v":4.2},{"t":2012.01,"v":5.0},{"t":2012.09,"v":6.2},{"t":2012.21,"v":4.7},{"t":2012.37,"v":4.5},{"t":2012.53,"v":4.3},{"t":2012.69,"v":4.5},{"t":2012.85,"v":4.3},{"t":2012.97,"v":3.7},{"t":2013.13,"v":4.5},{"t":2013.29,"v":4.3},{"t":2013.45,"v":4.5},{"t":2013.61,"v":4.5},{"t":2013.77,"v":3.8},{"t":2013.93,"v":4.5},{"t":2014.13,"v":5.0},{"t":2014.29,"v":4.7},{"t":2014.45,"v":4.3},{"t":2014.61,"v":4.0},{"t":2014.77,"v":4.5},{"t":2014.89,"v":4.2},{"t":2015.01,"v":5.5},{"t":2015.13,"v":4.7},{"t":2015.25,"v":5.2},{"t":2015.41,"v":5.0},{"t":2015.57,"v":4.5},{"t":2015.73,"v":4.3},{"t":2015.85,"v":4.5},{"t":2015.97,"v":4.0},{"t":2016.09,"v":5.0},{"t":2016.25,"v":5.3},{"t":2016.41,"v":5.0},{"t":2016.57,"v":4.7},{"t":2016.73,"v":4.5},{"t":2016.89,"v":4.8},{"t":2017.05,"v":4.5},{"t":2017.17,"v":5.5},{"t":2017.29,"v":4.7},{"t":2017.45,"v":4.5},{"t":2017.61,"v":4.7},{"t":2017.77,"v":4.5},{"t":2017.93,"v":4.5},{"t":2018.09,"v":5.3},{"t":2018.25,"v":4.7},{"t":2018.41,"v":4.5},{"t":2018.57,"v":4.2},{"t":2018.73,"v":4.5},{"t":2018.89,"v":4.7},{"t":2019.05,"v":5.2},{"t":2019.21,"v":4.7},{"t":2019.37,"v":4.5},{"t":2019.53,"v":4.3},{"t":2019.69,"v":4.5},{"t":2019.85,"v":4.3},{"t":2020.01,"v":4.7},{"t":2020.09,"v":6.3},{"t":2020.17,"v":5.5},{"t":2020.33,"v":5.0},{"t":2020.49,"v":4.5},{"t":2020.65,"v":4.3},{"t":2020.85,"v":4.5},{"t":2021.01,"v":4.7},{"t":2021.17,"v":5.0},{"t":2021.33,"v":4.8},{"t":2021.49,"v":4.9},{"t":2021.65,"v":4.8},{"t":2021.81,"v":4.7},{"t":2021.97,"v":4.5},{"t":2022.13,"v":5.2},{"t":2022.29,"v":4.8},{"t":2022.45,"v":4.7},{"t":2022.61,"v":4.6},{"t":2022.77,"v":4.7},{"t":2022.93,"v":4.5},{"t":2023.07,"v":6.2},{"t":2023.13,"v":4.7},{"t":2023.29,"v":4.5},{"t":2023.45,"v":4.3},{"t":2023.61,"v":4.3},{"t":2023.77,"v":4.5},{"t":2023.93,"v":4.3},{"t":2024.09,"v":4.7},{"t":2024.21,"v":4.3},{"t":2024.37,"v":4.2},{"t":2024.53,"v":4.1},{"t":2024.69,"v":3.9},{"t":2024.85,"v":4.1},{"t":2025.01,"v":4.0},{"t":2025.17,"v":3.8},{"t":2025.33,"v":4.0},{"t":2025.49,"v":3.8},{"t":2025.65,"v":3.7},{"t":2025.81,"v":3.8},{"t":2025.97,"v":4.2},{"t":2026.09,"v":4.3},{"t":2026.17,"v":5.0},{"t":2026.25,"v":4.3},{"t":2026.33,"v":4.8},{"t":2026.41,"v":4.5}
    ]
  },
  "layer": [
    {
      "data": {"values": [{"a": 2007.95, "b": 2009.5}, {"a": 2020.1, "b": 2020.32}]},
      "mark": {"type": "rect", "color": "#f2f2f2"},
      "encoding": {
        "x": {
          "field": "a", "type": "quantitative", "title": null,
          "scale": {"domain": [2002.79, 2026.66], "nice": false, "zero": false},
          "axis": {
            "values": [2005, 2010, 2015, 2020, 2025], "format": "d", "grid": false,
            "domainColor": "#d8d8d8", "domainWidth": 2, "tickColor": "#d8d8d8", "tickWidth": 2, "tickSize": 18,
            "labelFont": "DejaVu Sans", "labelFontSize": 21, "labelColor": "#666666", "labelPadding": 13
          }
        },
        "x2": {"field": "b"}
      }
    },
    {
      "data": {"values": [{}]},
      "mark": {"type": "point", "filled": true, "color": "#d6f6ef", "opacity": 1, "size": 4700},
      "encoding": {
        "x": {"datum": 2006.46, "type": "quantitative", "title": null},
        "y": {"datum": 12.96, "type": "quantitative", "title": "Percent"}
      }
    },
    {
      "data": {"values": [{}]},
      "mark": {"type": "text", "text": "MacroMicro", "font": "DejaVu Sans", "fontWeight": "bold", "fontSize": 50, "color": "#e2e2e2", "align": "center", "baseline": "middle"},
      "encoding": {
        "x": {"datum": 2011.65, "type": "quantitative", "title": null},
        "y": {"datum": 12.96, "type": "quantitative", "title": "Percent"}
      }
    },
    {
      "data": {"name": "us"},
      "mark": {"type": "line", "strokeWidth": 3.2},
      "encoding": {
        "x": {"field": "t", "type": "quantitative", "title": null},
        "y": {
          "field": "v", "type": "quantitative", "title": "Percent",
          "scale": {"domain": [0, 30], "nice": false},
          "axis": {
            "values": [0, 10, 20, 30], "grid": true, "gridColor": "#e6e6e6", "gridWidth": 2,
            "domain": false, "ticks": false,
            "labelFont": "DejaVu Sans", "labelFontSize": 21, "labelColor": "#666666", "labelPadding": 31,
            "titleFont": "DejaVu Sans", "titleFontSize": 23, "titleFontWeight": "normal", "titleColor": "#666666", "titlePadding": 15
          }
        },
        "color": {
          "datum": "美國", "type": "nominal",
          "scale": {
            "domain": ["美國", "東協", "歐盟", "拉丁美洲", "印度", "非洲", "日本", "南韓"],
            "range": ["#e9573f", "#3bafda", "#f6bb42", "#70ca63", "#7a5548", "#393e50", "#ef4f87", "#c096b4"]
          },
          "legend": {
            "title": null, "orient": "none", "legendX": -20, "legendY": 395,
            "direction": "horizontal", "columns": 5, "gridAlign": "all",
            "symbolType": "stroke", "symbolSize": 1024, "symbolStrokeWidth": 4,
            "labelFont": "Noto Sans CJK TC", "labelFontSize": 26, "labelColor": "#222222", "labelOffset": 8,
            "columnPadding": 39, "rowPadding": 10, "padding": 0
          }
        }
      }
    },
    {
      "data": {"name": "asean"},
      "mark": {"type": "line", "strokeWidth": 3.2},
      "encoding": {
        "x": {"field": "t", "type": "quantitative", "title": null},
        "y": {"field": "v", "type": "quantitative", "title": "Percent"},
        "color": {"datum": "東協", "type": "nominal"}
      }
    },
    {
      "data": {"name": "eu"},
      "mark": {"type": "line", "strokeWidth": 3.2},
      "encoding": {
        "x": {"field": "t", "type": "quantitative", "title": null},
        "y": {"field": "v", "type": "quantitative", "title": "Percent"},
        "color": {"datum": "歐盟", "type": "nominal"}
      }
    },
    {
      "data": {"name": "latam"},
      "mark": {"type": "line", "strokeWidth": 3.2},
      "encoding": {
        "x": {"field": "t", "type": "quantitative", "title": null},
        "y": {"field": "v", "type": "quantitative", "title": "Percent"},
        "color": {"datum": "拉丁美洲", "type": "nominal"}
      }
    },
    {
      "data": {"name": "india"},
      "mark": {"type": "line", "strokeWidth": 3.2},
      "encoding": {
        "x": {"field": "t", "type": "quantitative", "title": null},
        "y": {"field": "v", "type": "quantitative", "title": "Percent"},
        "color": {"datum": "印度", "type": "nominal"}
      }
    },
    {
      "data": {"name": "africa"},
      "mark": {"type": "line", "strokeWidth": 3.2},
      "encoding": {
        "x": {"field": "t", "type": "quantitative", "title": null},
        "y": {"field": "v", "type": "quantitative", "title": "Percent"},
        "color": {"datum": "非洲", "type": "nominal"}
      }
    },
    {
      "data": {"name": "japan"},
      "mark": {"type": "line", "strokeWidth": 3.2},
      "encoding": {
        "x": {"field": "t", "type": "quantitative", "title": null},
        "y": {"field": "v", "type": "quantitative", "title": "Percent"},
        "color": {"datum": "日本", "type": "nominal"}
      }
    },
    {
      "data": {"name": "korea"},
      "mark": {"type": "line", "strokeWidth": 3.2},
      "encoding": {
        "x": {"field": "t", "type": "quantitative", "title": null},
        "y": {"field": "v", "type": "quantitative", "title": "Percent"},
        "color": {"datum": "南韓", "type": "nominal"}
      }
    }
  ]
}
